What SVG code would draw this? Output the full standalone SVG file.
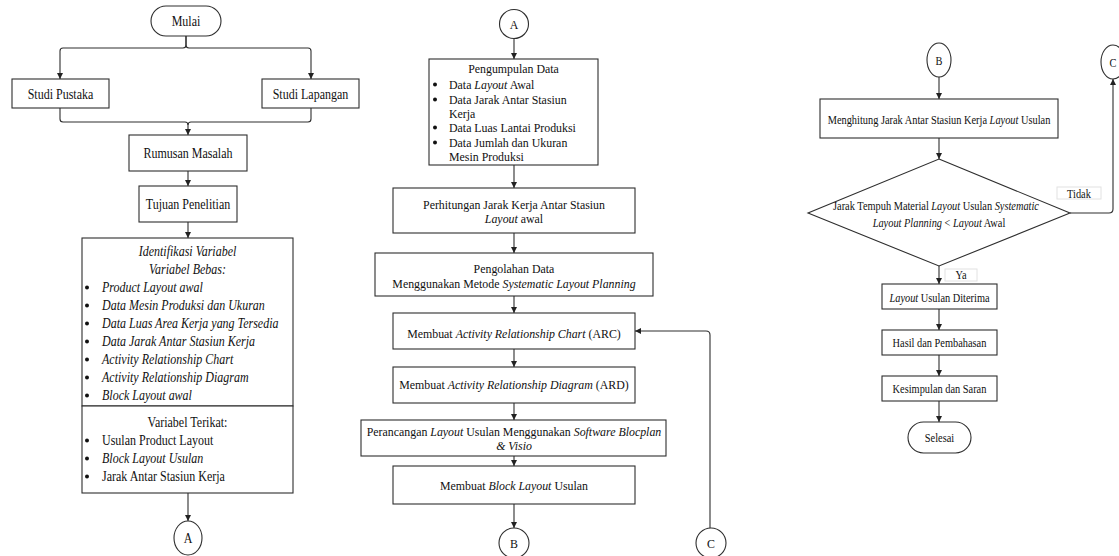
<svg xmlns="http://www.w3.org/2000/svg" width="1119" height="556" viewBox="0 0 1119 556" font-family="'Liberation Serif', 'Times New Roman', serif">
<style>
.b{fill:#fff;stroke:#2e2e2e;stroke-width:1.1}
.c{fill:none;stroke:#2e2e2e;stroke-width:1.1}
text{font-family:"Liberation Serif","Times New Roman",serif;fill:#111}
.L{font-size:15px}
.M{font-size:13.5px}
.R{font-size:12.5px}
.m{text-anchor:middle}
.i{font-style:italic}
.dot{fill:#111}
.lb{fill:#fff;stroke:#e2e2e2;stroke-width:1}
</style>
<defs>
<marker id="ah" markerUnits="userSpaceOnUse" markerWidth="6" markerHeight="6" refX="6" refY="3" orient="auto">
<path d="M0,0 L6,3 L0,6 z" fill="#222"/>
</marker>
</defs>
<rect width="1119" height="556" fill="#fff"/>

<g id="connectors">
<path class="c" d="M186,36 V45 Q186,48 183,48 H63 Q60,48 60,51 V79" marker-end="url(#ah)"/>
<path class="c" d="M186,36 V45 Q186,48 189,48 H308 Q311,48 311,51 V79" marker-end="url(#ah)"/>
<path class="c" d="M60,108 V119 Q60,122 63,122 H185 Q188,122 188,125 V135" marker-end="url(#ah)"/>
<path class="c" d="M311,108 V119 Q311,122 308,122 H191 Q188,122 188,125"/>
<path class="c" d="M188,171 V186" marker-end="url(#ah)"/>
<path class="c" d="M188,222 V238" marker-end="url(#ah)"/>
<path class="c" d="M188,493 V521" marker-end="url(#ah)"/>

<path class="c" d="M514,38.5 V59" marker-end="url(#ah)"/>
<path class="c" d="M514,165 V188" marker-end="url(#ah)"/>
<path class="c" d="M514,233 V253" marker-end="url(#ah)"/>
<path class="c" d="M514,296 V313" marker-end="url(#ah)"/>
<path class="c" d="M514,349 V367" marker-end="url(#ah)"/>
<path class="c" d="M514,403 V420" marker-end="url(#ah)"/>
<path class="c" d="M514,456 V466" marker-end="url(#ah)"/>
<path class="c" d="M514,504 V528" marker-end="url(#ah)"/>
<path class="c" d="M710,528 V335 Q710,331 706,331 H635" marker-end="url(#ah)"/>

<path class="c" d="M939,77 V99" marker-end="url(#ah)"/>
<path class="c" d="M939,138 V159" marker-end="url(#ah)"/>
<path class="c" d="M939,266 V284" marker-end="url(#ah)"/>
<path class="c" d="M939,309 V330" marker-end="url(#ah)"/>
<path class="c" d="M939,355 V376" marker-end="url(#ah)"/>
<path class="c" d="M939,401 V422" marker-end="url(#ah)"/>
<path class="c" d="M1070,213 H1109 Q1113,213 1113,209 V79" marker-end="url(#ah)"/>
</g>

<g id="mulai">
<rect class="b" x="151" y="6" width="70" height="30" rx="15"/>
<text class="L m" transform="translate(186,26) scale(0.8,1)">Mulai</text>
</g>
<g id="studi-pustaka">
<rect class="b" x="12" y="79" width="97" height="29"/>
<text class="L m" transform="translate(60.5,98.5) scale(0.8,1)">Studi Pustaka</text>
</g>
<g id="studi-lapangan">
<rect class="b" x="262" y="79" width="97" height="29"/>
<text class="L m" transform="translate(310.5,98.5) scale(0.8,1)">Studi Lapangan</text>
</g>
<g id="rumusan">
<rect class="b" x="129" y="135" width="118" height="36"/>
<text class="L m" transform="translate(188,158) scale(0.8,1)">Rumusan Masalah</text>
</g>
<g id="tujuan">
<rect class="b" x="139" y="186" width="98" height="36"/>
<text class="L m" transform="translate(188,209) scale(0.8,1)">Tujuan Penelitian</text>
</g>
<g id="identifikasi">
<rect class="b" x="82" y="238" width="211" height="168"/>
<text class="L m i" transform="translate(187.5,256) scale(0.8,1)">Identifikasi Variabel</text>
<text class="L m i" transform="translate(187.5,274) scale(0.8,1)">Variabel Bebas:</text>
<circle class="dot" cx="87" cy="287.5" r="2"/>
<circle class="dot" cx="87" cy="305.5" r="2"/>
<circle class="dot" cx="87" cy="323.5" r="2"/>
<circle class="dot" cx="87" cy="341.5" r="2"/>
<circle class="dot" cx="87" cy="359.5" r="2"/>
<circle class="dot" cx="87" cy="377.5" r="2"/>
<circle class="dot" cx="87" cy="395.5" r="2"/>
<text class="L i" transform="translate(102,292) scale(0.8,1)">Product Layout awal</text>
<text class="L i" transform="translate(102,310) scale(0.8,1)">Data Mesin Produksi dan Ukuran</text>
<text class="L i" transform="translate(102,328) scale(0.8,1)">Data Luas Area Kerja yang Tersedia</text>
<text class="L i" transform="translate(102,346) scale(0.8,1)">Data Jarak Antar Stasiun Kerja</text>
<text class="L i" transform="translate(102,364) scale(0.8,1)">Activity Relationship Chart</text>
<text class="L i" transform="translate(102,382) scale(0.8,1)">Activity Relationship Diagram</text>
<text class="L i" transform="translate(102,400) scale(0.8,1)">Block Layout awal</text>
</g>
<g id="terikat">
<rect class="b" x="82" y="406" width="211" height="87"/>
<text class="L m" transform="translate(187.5,427) scale(0.8,1)">Variabel Terikat:</text>
<circle class="dot" cx="87" cy="440.5" r="2"/>
<circle class="dot" cx="87" cy="458.5" r="2"/>
<circle class="dot" cx="87" cy="476.5" r="2"/>
<text class="L" transform="translate(102,445) scale(0.8,1)">Usulan Product Layout</text>
<text class="L i" transform="translate(102,463) scale(0.8,1)">Block Layout Usulan</text>
<text class="L" transform="translate(102,481) scale(0.8,1)">Jarak Antar Stasiun Kerja</text>
</g>
<g id="conn-a-left">
<ellipse class="b" cx="188" cy="538" rx="14" ry="17"/>
<text class="L m" transform="translate(188,543) scale(0.8,1)">A</text>
</g>

<g id="conn-a-mid">
<circle class="b" cx="514" cy="24" r="14.5"/>
<text class="M m" transform="translate(514,28.5) scale(0.88,1)">A</text>
</g>
<g id="pengumpulan">
<rect class="b" x="429" y="59" width="169" height="106"/>
<text class="M m" transform="translate(513.5,73) scale(0.88,1)">Pengumpulan Data</text>
<circle class="dot" cx="435" cy="84.5" r="2"/>
<circle class="dot" cx="435" cy="99.5" r="2"/>
<circle class="dot" cx="435" cy="127.5" r="2"/>
<circle class="dot" cx="435" cy="142.5" r="2"/>
<text class="M" transform="translate(449,88.5) scale(0.88,1)">Data <tspan class="i">Layout</tspan> Awal</text>
<text class="M" transform="translate(449,103.5) scale(0.88,1)">Data Jarak Antar Stasiun</text>
<text class="M" transform="translate(449,117.5) scale(0.88,1)">Kerja</text>
<text class="M" transform="translate(449,131.5) scale(0.88,1)">Data Luas Lantai Produksi</text>
<text class="M" transform="translate(449,146.5) scale(0.88,1)">Data Jumlah dan Ukuran</text>
<text class="M" transform="translate(449,160.5) scale(0.88,1)">Mesin Produksi</text>
</g>
<g id="perhitungan">
<rect class="b" x="393" y="188" width="242" height="45"/>
<text class="M m" transform="translate(514,208.5) scale(0.88,1)">Perhitungan Jarak Kerja Antar Stasiun</text>
<text class="M m" transform="translate(514,222.5) scale(0.88,1)"><tspan class="i">Layout</tspan> awal</text>
</g>
<g id="pengolahan">
<rect class="b" x="375" y="253" width="278" height="43"/>
<text class="M m" transform="translate(514,272.5) scale(0.88,1)">Pengolahan Data</text>
<text class="M m" transform="translate(514,287.5) scale(0.88,1)">Menggunakan Metode <tspan class="i">Systematic Layout Planning</tspan></text>
</g>
<g id="arc">
<rect class="b" x="393" y="313" width="242" height="36"/>
<text class="M m" transform="translate(514,337.5) scale(0.88,1)">Membuat <tspan class="i">Activity Relationship Chart</tspan> (ARC)</text>
</g>
<g id="ard">
<rect class="b" x="393" y="367" width="242" height="36"/>
<text class="M m" transform="translate(514,388.5) scale(0.88,1)">Membuat <tspan class="i">Activity Relationship Diagram</tspan> (ARD)</text>
</g>
<g id="perancangan">
<rect class="b" x="361" y="420" width="305" height="36"/>
<text class="M m" transform="translate(514,435.5) scale(0.88,1)">Perancangan <tspan class="i">Layout</tspan> Usulan Menggunakan <tspan class="i">Software Blocplan</tspan></text>
<text class="M m i" transform="translate(514,449.5) scale(0.88,1)">&amp; Visio</text>
</g>
<g id="block-layout">
<rect class="b" x="393" y="466" width="242" height="38"/>
<text class="M m" transform="translate(514,490) scale(0.88,1)">Membuat <tspan class="i">Block Layout</tspan> Usulan</text>
</g>
<g id="conn-b-mid">
<circle class="b" cx="514" cy="543" r="15"/>
<text class="M m" transform="translate(514,547.5) scale(0.88,1)">B</text>
</g>
<g id="conn-c-mid">
<circle class="b" cx="711" cy="543" r="15"/>
<text class="M m" transform="translate(711,547.5) scale(0.88,1)">C</text>
</g>

<g id="conn-b-right">
<ellipse class="b" cx="939" cy="60" rx="12" ry="17"/>
<text class="R m" transform="translate(939,64.5) scale(0.83,1)">B</text>
</g>
<g id="conn-c-right">
<ellipse class="b" cx="1113" cy="62" rx="12" ry="17"/>
<text class="R m" transform="translate(1113,66.5) scale(0.83,1)">C</text>
</g>
<g id="menghitung">
<rect class="b" x="820" y="99" width="238" height="39"/>
<text class="R m" transform="translate(939,123.5) scale(0.83,1)">Menghitung Jarak Antar Stasiun Kerja <tspan class="i">Layout</tspan> Usulan</text>
</g>
<g id="keputusan">
<polygon class="b" points="939,159 1070,213 939,266 808,213"/>
<text class="R m" transform="translate(936,210) scale(0.83,1)">Jarak Tempuh Material <tspan class="i">Layout</tspan> Usulan <tspan class="i">Systematic</tspan></text>
<text class="R m" transform="translate(939,227) scale(0.83,1)"><tspan class="i">Layout Planning</tspan> &lt; <tspan class="i">Layout</tspan> Awal</text>
</g>
<g id="label-tidak">
<rect class="lb" x="1057" y="187" width="44" height="12"/>
<text class="R m" transform="translate(1079,197.5) scale(0.83,1)">Tidak</text>
</g>
<g id="label-ya">
<rect class="lb" x="945" y="269" width="32" height="12"/>
<text class="R m" transform="translate(961,279) scale(0.83,1)">Ya</text>
</g>
<g id="diterima">
<rect class="b" x="882" y="284" width="115" height="25"/>
<text class="R m" transform="translate(939.5,302) scale(0.83,1)"><tspan class="i">Layout</tspan> Usulan Diterima</text>
</g>
<g id="hasil">
<rect class="b" x="882" y="330" width="115" height="25"/>
<text class="R m" transform="translate(939.5,347) scale(0.83,1)">Hasil dan Pembahasan</text>
</g>
<g id="kesimpulan">
<rect class="b" x="882" y="376" width="115" height="25"/>
<text class="R m" transform="translate(939.5,392.5) scale(0.83,1)">Kesimpulan dan Saran</text>
</g>
<g id="selesai">
<rect class="b" x="908" y="422" width="63" height="31" rx="15.5"/>
<text class="R m" transform="translate(939.5,441.5) scale(0.83,1)">Selesai</text>
</g>
</svg>
